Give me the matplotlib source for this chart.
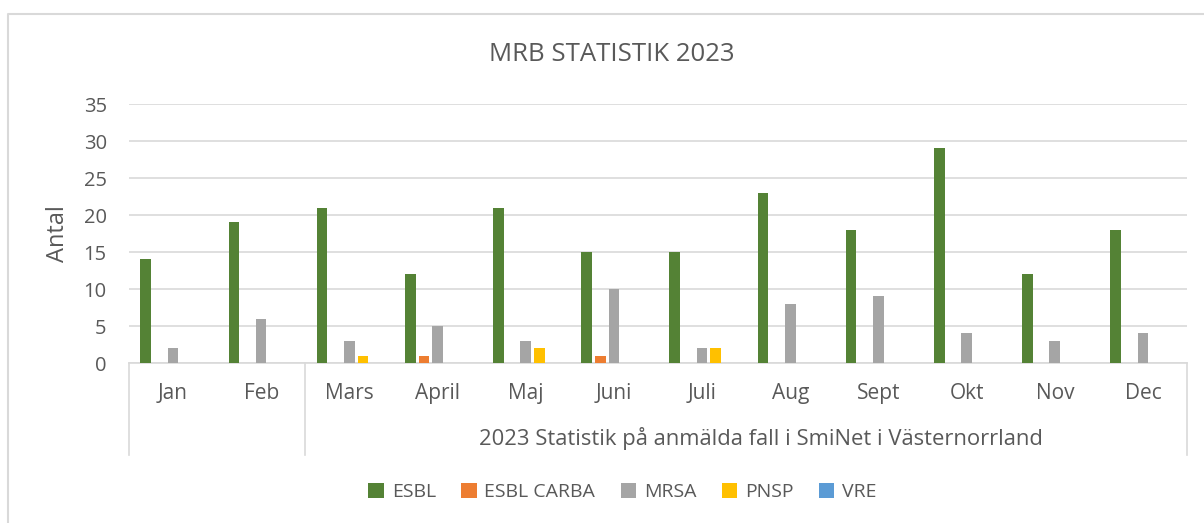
import matplotlib
matplotlib.use('Agg')
import matplotlib.pyplot as plt
from matplotlib.lines import Line2D
import numpy as np

plt.rcParams['font.family'] = ['Open Sans', 'DejaVu Sans']

months = ['Jan', 'Feb', 'Mars', 'April', 'Maj', 'Juni', 'Juli', 'Aug', 'Sept', 'Okt', 'Nov', 'Dec']
series_names = ['ESBL', 'ESBL CARBA', 'MRSA', 'PNSP', 'VRE']
esbl = [14, 19, 21, 12, 21, 15, 15, 23, 18, 29, 12, 18]
esbl_carba = [0, 0, 0, 1, 0, 1, 0, 0, 0, 0, 0, 0]
mrsa = [2, 6, 3, 5, 3, 10, 2, 8, 9, 4, 3, 4]
pnsp = [0, 0, 1, 0, 2, 0, 2, 0, 0, 0, 0, 0]
vre = [0, 0, 0, 0, 0, 0, 0, 0, 0, 0, 0, 0]
colors = ['#548235', '#ED7D31', '#A5A5A5', '#FFC000', '#5B9BD5']
group_label = '2023 Statistik på anmälda fall i SmiNet i Västernorrland'

txt = '#595959'
grid = '#d9d9d9'

fig = plt.figure(figsize=(12.04, 5.23), dpi=100)
ax = fig.add_axes([0.1071, 0.3059, 0.8788, 0.4952])

x = np.arange(len(months))
step = 0.155
width = 0.12
handles = []
for i, (vals, name) in enumerate(zip([esbl, esbl_carba, mrsa, pnsp, vre], series_names)):
    b = ax.bar(x + (i - 2) * step, vals, width, color=colors[i], label=name, zorder=3)
    handles.append(b)

ax.set_xlim(-0.5, len(months) - 0.5)
ax.set_ylim(0, 35)
ax.set_yticks(range(0, 36, 5))
ax.yaxis.grid(True, color=grid, linewidth=1.2, zorder=0)
ax.tick_params(axis='y', length=0, pad=16, labelsize=14.5, labelcolor=txt)
ax.set_xticks([])
for s in ['top', 'right', 'left']:
    ax.spines[s].set_visible(False)
ax.spines['bottom'].set_color(grid)
ax.spines['bottom'].set_linewidth(1.2)

# multi-level category axis
tr = ax.get_xaxis_transform()
for xv in [-0.5, 1.5, len(months) - 0.5]:
    ax.plot([xv, xv], [0, -0.355], color=grid, lw=1.2, transform=tr, clip_on=False)
for i, m in enumerate(months):
    ax.text(i, -0.116, m, transform=tr, ha='center', va='center', fontsize=15, color=txt)
ax.text(6.67, -0.293, group_label, transform=tr, ha='center', va='center', fontsize=15.8, color=txt)

fig.text(0.508, 0.895, 'MRB STATISTIK 2023', ha='center', va='center', fontsize=18.5, color=txt)
fig.text(0.048, 0.553, 'Antal', rotation=90, ha='center', va='center', fontsize=17, color=txt)

fig.legend(handles=handles, loc='center', bbox_to_anchor=(0.517, 0.059), ncol=5, frameon=False,
           fontsize=14, labelcolor=txt, handlelength=0.8, handleheight=0.8, handletextpad=0.4,
           columnspacing=1.3)

# chart area border (only top and left visible)
fig.add_artist(Line2D([8 / 1204, 8 / 1204, 1.0], [0.0, 1 - 14 / 523, 1 - 14 / 523],
                      color=grid, lw=1.5, transform=fig.transFigure))

fig.savefig('out.png', dpi=100)
